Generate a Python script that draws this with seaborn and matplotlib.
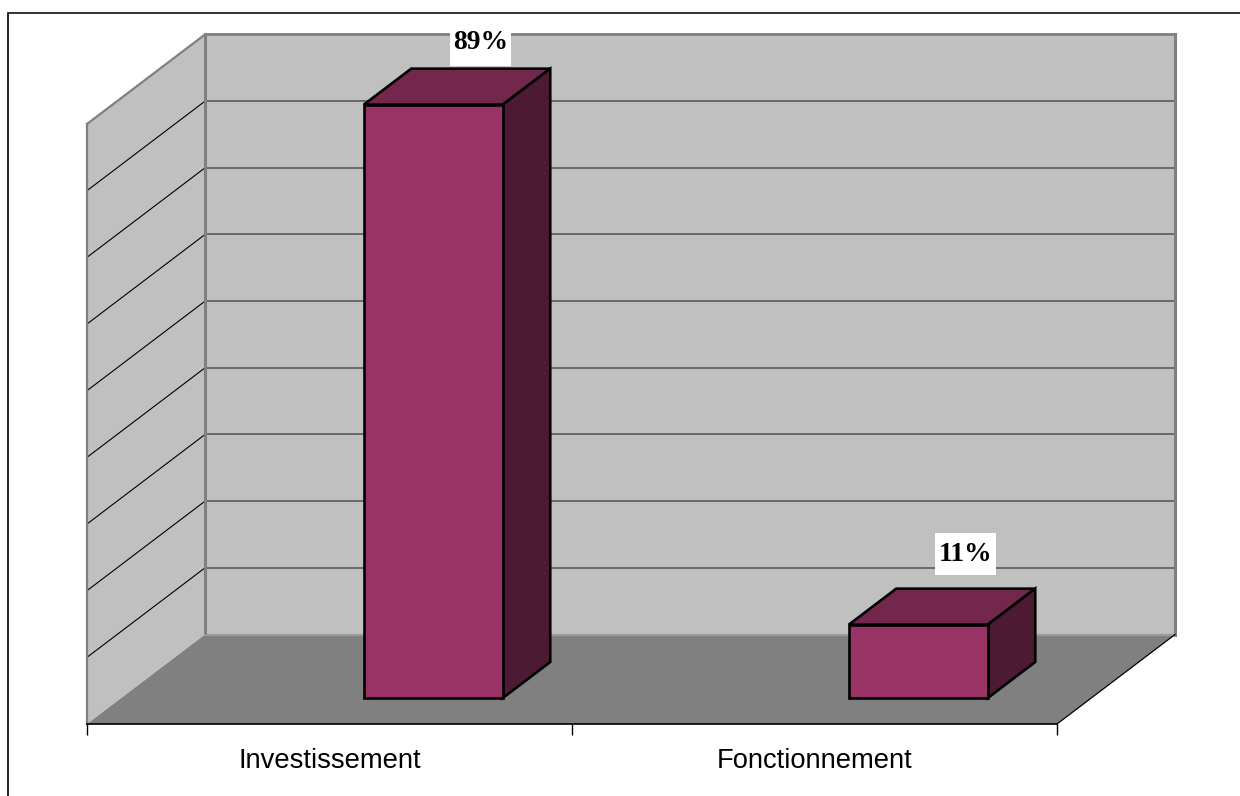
import matplotlib
matplotlib.use("Agg")
import matplotlib.pyplot as plt
from matplotlib.patches import Polygon, Rectangle
from matplotlib.lines import Line2D
import seaborn as sns
import pandas as pd

categories = ["Investissement", "Fonctionnement"]
values = [89, 11]
value_labels = ["89%", "11%"]
grid_ticks = [10, 20, 30, 40, 50, 60, 70, 80]
y_max = 90

WALL = "#c0c0c0"
FLOOR = "#808080"
EDGE = "#808080"
BAR_FRONT = "#993366"
BAR_TOP = "#73274d"
BAR_SIDE = "#4d1a33"

W, H = 1240, 796
sns.set_theme(style="white")
fig = plt.figure(figsize=(W / 100, H / 100), dpi=100, facecolor="white")
ax = fig.add_axes([87 / W, (H - 724) / H, 970 / W, 600 / H])
ax.set_facecolor("none")

df = pd.DataFrame({"cat": categories, "val": values})
bar_width = 139 / 485
sns.barplot(data=df, x="cat", y="val", color=BAR_FRONT, saturation=1,
            width=bar_width, edgecolor="black", linewidth=1.9, ax=ax, zorder=6,
            clip_on=False)
ax.set_xlim(-0.5, 1.5)
ax.set_ylim(0, y_max)

# oblique projection of the depth axis, in data units
DX = 118 / 485
DY = 89.5 * y_max / 600
def proj(x, y, d):
    return (x + d * DX, y + d * DY)

def poly(pts, z, fc, ec="none", lw=0):
    ax.add_patch(Polygon(pts, closed=True, facecolor=fc, edgecolor=ec, linewidth=lw,
                         zorder=z, clip_on=False, joinstyle="miter"))

x0, x1 = -0.5, 1.5
# walls and floor
poly([proj(x0, 0, 0), proj(x0, y_max, 0), proj(x0, y_max, 1), proj(x0, 0, 1)], 1, WALL)
poly([proj(x0, 0, 1), proj(x0, y_max, 1), proj(x1, y_max, 1), proj(x1, 0, 1)], 1, WALL)
poly([proj(x0, 0, 0), proj(x0, 0, 1), proj(x1, 0, 1), proj(x1, 0, 0)], 2, FLOOR)

def seg(a, b, color, lw, z=3):
    ax.plot([a[0], b[0]], [a[1], b[1]], color=color, lw=lw, zorder=z, clip_on=False,
            solid_capstyle="projecting")

for g in grid_ticks:
    seg(proj(x0, g, 0), proj(x0, g, 1), "black", 0.8)
    seg(proj(x0, g, 1), proj(x1, g, 1), "#5a5a5a", 1.2)
seg(proj(x0, 0, 0), proj(x0, y_max, 0), EDGE, 1.6)
seg(proj(x0, y_max, 0), proj(x0, y_max, 1), EDGE, 1.6)
seg(proj(x0, 0, 1), proj(x0, y_max, 1), EDGE, 2.2)
seg(proj(x0, y_max, 1), proj(x1, y_max, 1), EDGE, 2.0)
seg(proj(x1, 0, 1), proj(x1, y_max, 1), EDGE, 2.2)
seg(proj(x0, 0, 1), proj(x1, 0, 1), "#9a9a9a", 1.6)
seg(proj(x1, 0, 0), proj(x1, 0, 1), "black", 0.9)

# bars: shift front faces into the floor, then add top and side
d_front = 26 / 89.5
d_back = (26 + 36) / 89.5
front_rgb = matplotlib.colors.to_rgb(BAR_FRONT)
bars = [p for p in ax.patches if p.get_facecolor()[:3] == front_rgb]
for bar, label, rise, drop in zip(bars, value_labels, [26, 34], [23, 20]):
    x, w, h = bar.get_x(), bar.get_width(), bar.get_height()
    left = x + w / 2
    right = left + w
    fx, fy = proj(left, 0, d_front)
    bar.set_x(fx)
    bar.set_y(fy)
    bar.set_joinstyle("miter")
    poly([proj(left, h, d_front), proj(left, h, d_back), proj(right, h, d_back),
          proj(right, h, d_front)], 5, BAR_TOP, "black", 1.9)
    poly([proj(right, 0, d_front), proj(right, h, d_front), proj(right, h, d_back),
          proj(right, 0, d_back)], 5, BAR_SIDE, "black", 1.9)
    cx, cy = proj((left + right) / 2, h, d_back)
    px, py = ax.transData.transform((cx, cy))
    # white label plate, 61 x 42 px, a little below the text centre
    fig.add_artist(Rectangle(((px - 0.5 - 30.5) / W, (py + rise - drop) / H), 61 / W, 42 / H,
                             transform=fig.transFigure, facecolor="white", edgecolor="none",
                             zorder=7))
    fig.text((px - 0.5) / W, (py + rise) / H, label, ha="center", va="center",
             fontsize=19.8, fontweight="bold", family="Liberation Serif", color="black",
             zorder=8)

# axes
for s in ("top", "left", "right"):
    ax.spines[s].set_visible(False)
ax.spines["bottom"].set_color("black")
ax.spines["bottom"].set_linewidth(1.2)
ax.spines["bottom"].set_zorder(4)
ax.set_xlabel("")
ax.set_ylabel("")
ax.set_yticks([])
ax.set_xticks([-0.5, 0.5, 1.5])
ax.set_xticklabels([])
ax.set_xticks([0, 1], minor=True)
ax.set_xticklabels(categories, minor=True, fontsize=19.7, family="Liberation Sans", color="black")
ax.tick_params(axis="x", which="major", length=8, width=1, color="black", bottom=True)
ax.tick_params(axis="x", which="minor", length=0, pad=17, bottom=False)

# chart frame (its right and bottom sides fall outside the picture)
fig.add_artist(Line2D([8 / W, 8 / W], [0, 1 - 13 / H], color="black", lw=1.2))
fig.add_artist(Line2D([8 / W, 1], [1 - 13 / H, 1 - 13 / H], color="#333333", lw=1.4))

fig.savefig("out.png", dpi=100, facecolor="white")
